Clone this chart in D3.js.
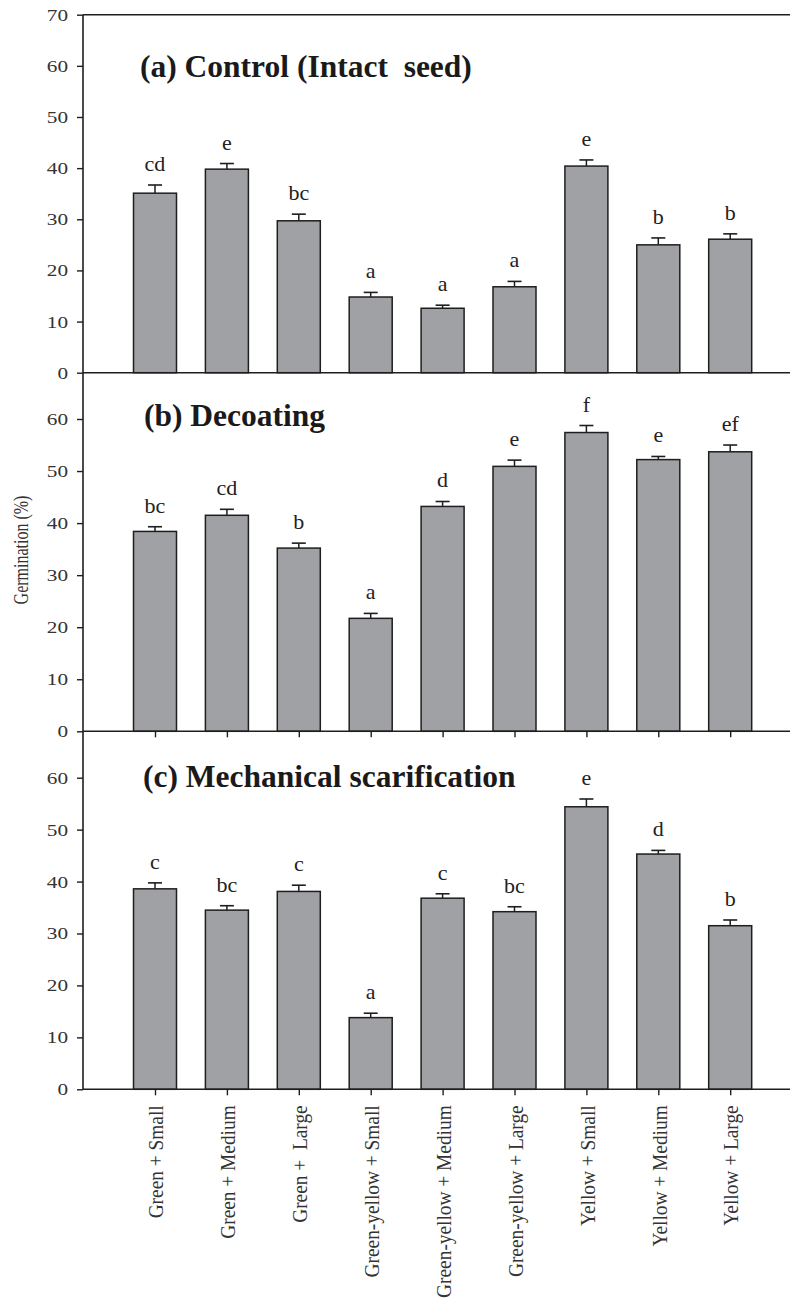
<!DOCTYPE html>
<html>
<head>
<meta charset="utf-8">
<script src="https://cdn.jsdelivr.net/npm/d3@7"></script>
<style>
  html, body { margin: 0; padding: 0; background: #fff; }
  svg { display: block; }
  text { font-family: "Liberation Serif", "Times New Roman", serif; }
</style>
</head>
<body>
<svg id="chart" width="790" height="1299"></svg>
<script>
// Seed colour + seed size treatments
const categories = [
  "Green + Small", "Green + Medium", "Green +  Large",
  "Green-yellow + Small", "Green-yellow + Medium", "Green-yellow + Large",
  "Yellow + Small", "Yellow + Medium", "Yellow + Large"
];

// (a) Control (intact seed)
const controlMean    = [35.1, 39.8, 29.7, 14.8, 12.6, 16.8, 40.4, 25.0, 26.1];
const controlErr     = [1.6, 1.1, 1.3, 0.9, 0.6, 1.05, 1.2, 1.35, 1.05];
const controlLetters = ["cd", "e", "bc", "a", "a", "a", "e", "b", "b"];

// (b) Decoating
const decoatMean    = [38.4, 41.5, 35.2, 21.7, 43.2, 50.9, 57.4, 52.2, 53.7];
const decoatErr     = [0.9, 1.15, 0.95, 0.95, 0.95, 1.2, 1.35, 0.6, 1.3];
const decoatLetters = ["bc", "cd", "b", "a", "d", "e", "f", "e", "ef"];

// (c) Mechanical scarification
const scarMean    = [38.6, 34.5, 38.1, 13.8, 36.8, 34.2, 54.4, 45.3, 31.5];
const scarErr     = [1.15, 0.85, 1.2, 0.85, 0.85, 0.95, 1.5, 0.7, 1.1];
const scarLetters = ["c", "bc", "c", "a", "c", "bc", "e", "d", "b"];

const panelTitles = ["(a) Control (Intact  seed)", "(b) Decoating", "(c) Mechanical scarification"];
const yTicksA = [0, 10, 20, 30, 40, 50, 60, 70];
const yTicksBC = [0, 10, 20, 30, 40, 50, 60];
const yLabel = "Germination (%)";

// ---- layout ----
const svg = d3.select("#chart");
const axisX = 83, rightX = 802;
const ink = "#1e1e1e";
const barFill = "#a0a1a5";
const barW = 43;

const x = d3.scalePoint().domain(categories).range([155, 730.2]);

const panels = [
  { mean: controlMean, err: controlErr, letters: controlLetters, title: panelTitles[0],
    y: d3.scaleLinear().domain([0, 70]).range([372.7, 14.7]), top: 14.7,
    ticks: yTicksA, titleX: 140, titleY: 77, xTicks: false },
  { mean: decoatMean, err: decoatErr, letters: decoatLetters, title: panelTitles[1],
    y: d3.scaleLinear().domain([0, 60]).range([731.3, 419]), top: 372.7,
    ticks: yTicksBC, titleX: 144, titleY: 426, xTicks: true },
  { mean: scarMean, err: scarErr, letters: scarLetters, title: panelTitles[2],
    y: d3.scaleLinear().domain([0, 60]).range([1089.3, 777.7]), top: 731.3,
    ticks: yTicksBC, titleX: 143, titleY: 787, xTicks: true, xLabels: true }
];

// top frame line of first panel
svg.append("line")
  .attr("x1", axisX).attr("x2", rightX)
  .attr("y1", panels[0].top).attr("y2", panels[0].top)
  .attr("stroke", ink).attr("stroke-width", 1.6);

panels.forEach((p) => {
  const g = svg.append("g");
  const base = p.y(0);

  // bars
  g.selectAll("rect.bar")
    .data(categories)
    .join("rect")
    .attr("class", "bar")
    .attr("x", d => x(d) - barW / 2)
    .attr("width", barW)
    .attr("y", (d, i) => p.y(p.mean[i]))
    .attr("height", (d, i) => base - p.y(p.mean[i]))
    .attr("fill", barFill)
    .attr("stroke", ink)
    .attr("stroke-width", 1.5);

  // error bars (upper only)
  const eb = g.selectAll("g.err").data(categories).join("g").attr("class", "err");
  eb.append("line")
    .attr("x1", d => x(d)).attr("x2", d => x(d))
    .attr("y1", (d, i) => p.y(p.mean[i]))
    .attr("y2", (d, i) => p.y(p.mean[i] + p.err[i]))
    .attr("stroke", ink).attr("stroke-width", 1.5);
  eb.append("line")
    .attr("x1", d => x(d) - 7).attr("x2", d => x(d) + 7)
    .attr("y1", (d, i) => p.y(p.mean[i] + p.err[i]))
    .attr("y2", (d, i) => p.y(p.mean[i] + p.err[i]))
    .attr("stroke", ink).attr("stroke-width", 1.6);

  // significance letters
  g.selectAll("text.letter")
    .data(categories)
    .join("text")
    .attr("class", "letter")
    .attr("x", d => x(d))
    .attr("y", (d, i) => p.y(p.mean[i] + p.err[i]) - 14)
    .attr("text-anchor", "middle")
    .attr("font-size", 22)
    .attr("fill", "#222")
    .text((d, i) => p.letters[i]);

  // baseline
  g.append("line")
    .attr("x1", axisX).attr("x2", rightX)
    .attr("y1", base).attr("y2", base)
    .attr("stroke", ink).attr("stroke-width", 1.6);

  // y axis
  const ya = svg.append("g")
    .attr("transform", `translate(${axisX},0)`)
    .call(d3.axisLeft(p.y).tickValues(p.ticks).tickSize(6).tickPadding(9).tickSizeOuter(0));
  ya.select(".domain").remove();
  ya.selectAll(".tick line").attr("stroke", ink).attr("stroke-width", 1.4);
  ya.selectAll(".tick text")
    .attr("font-size", 17)
    .attr("fill", "#333")
    .attr("transform", "scale(1.25,1)")
    .attr("x", -15 / 1.25);

  // x axis ticks
  if (p.xTicks) {
    const xa = svg.append("g")
      .attr("transform", `translate(0,${base})`)
      .call(d3.axisBottom(x).tickSize(6).tickSizeOuter(0));
    xa.select(".domain").remove();
    xa.selectAll(".tick line").attr("stroke", ink).attr("stroke-width", 1.4);
    if (p.xLabels) {
      const k = 0.88;
      xa.selectAll(".tick text")
        .attr("font-size", 22)
        .attr("fill", "#333")
        .style("white-space", "pre")
        .attr("text-anchor", "end")
        .attr("transform", `rotate(-90) scale(${k},1)`)
        .attr("x", -16 / k)
        .attr("y", 0)
        .attr("dy", "0.35em");
    } else {
      xa.selectAll(".tick text").remove();
    }
  }

  // panel title
  svg.append("text")
    .attr("x", p.titleX).attr("y", p.titleY)
    .attr("font-size", 31.5)
    .attr("font-weight", "bold")
    .attr("fill", "#1a1a1a")
    .style("white-space", "pre")
    .text(p.title);
});

// left axis line spanning all panels
svg.append("line")
  .attr("x1", axisX).attr("x2", axisX)
  .attr("y1", panels[0].top).attr("y2", panels[2].y(0))
  .attr("stroke", ink).attr("stroke-width", 1.6);

// shared y-axis title
svg.append("text")
  .attr("transform", "translate(28,550) rotate(-90) scale(0.8,1)")
  .attr("text-anchor", "middle")
  .attr("font-size", 20)
  .attr("fill", "#333")
  .text(yLabel);
</script>
</body>
</html>
